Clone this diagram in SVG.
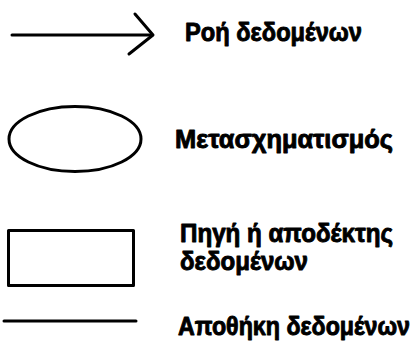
<svg xmlns="http://www.w3.org/2000/svg" width="419" height="343" viewBox="0 0 419 343">
<style>
.s{fill:none;stroke:#000;stroke-width:3;stroke-linecap:round;stroke-linejoin:round}
.t{font-family:"Liberation Sans","DejaVu Sans",sans-serif;font-weight:bold;font-size:25px;fill:#000;stroke:#000;stroke-width:0.9;stroke-linejoin:round}
</style>
<rect width="419" height="343" fill="#fff"/>
<g id="connectors">
<line class="s" x1="12" y1="35" x2="152" y2="35"/>
<polyline class="s" points="135,14 153,35 129,54"/>
</g>
<g id="flow-label"><text class="t" x="185" y="41" textLength="177" lengthAdjust="spacingAndGlyphs">Ροή δεδομένων</text></g>
<g id="process">
<ellipse class="s" cx="75" cy="139" rx="66" ry="32.5"/>
<text class="t" x="175" y="148" textLength="218" lengthAdjust="spacingAndGlyphs">Μετασχηματισμός</text>
</g>
<g id="entity">
<rect class="s" x="8.5" y="230.5" width="125" height="55" stroke-linecap="butt" stroke-linejoin="miter"/>
<text class="t" x="180" y="242" textLength="213" lengthAdjust="spacingAndGlyphs">Πηγή ή αποδέκτης</text>
<text class="t" x="180" y="270" textLength="128" lengthAdjust="spacingAndGlyphs">δεδομένων</text>
</g>
<g id="store">
<line class="s" x1="4" y1="321" x2="136" y2="321"/>
<text class="t" x="178" y="335" textLength="232" lengthAdjust="spacingAndGlyphs">Αποθήκη δεδομένων</text>
</g>
</svg>
